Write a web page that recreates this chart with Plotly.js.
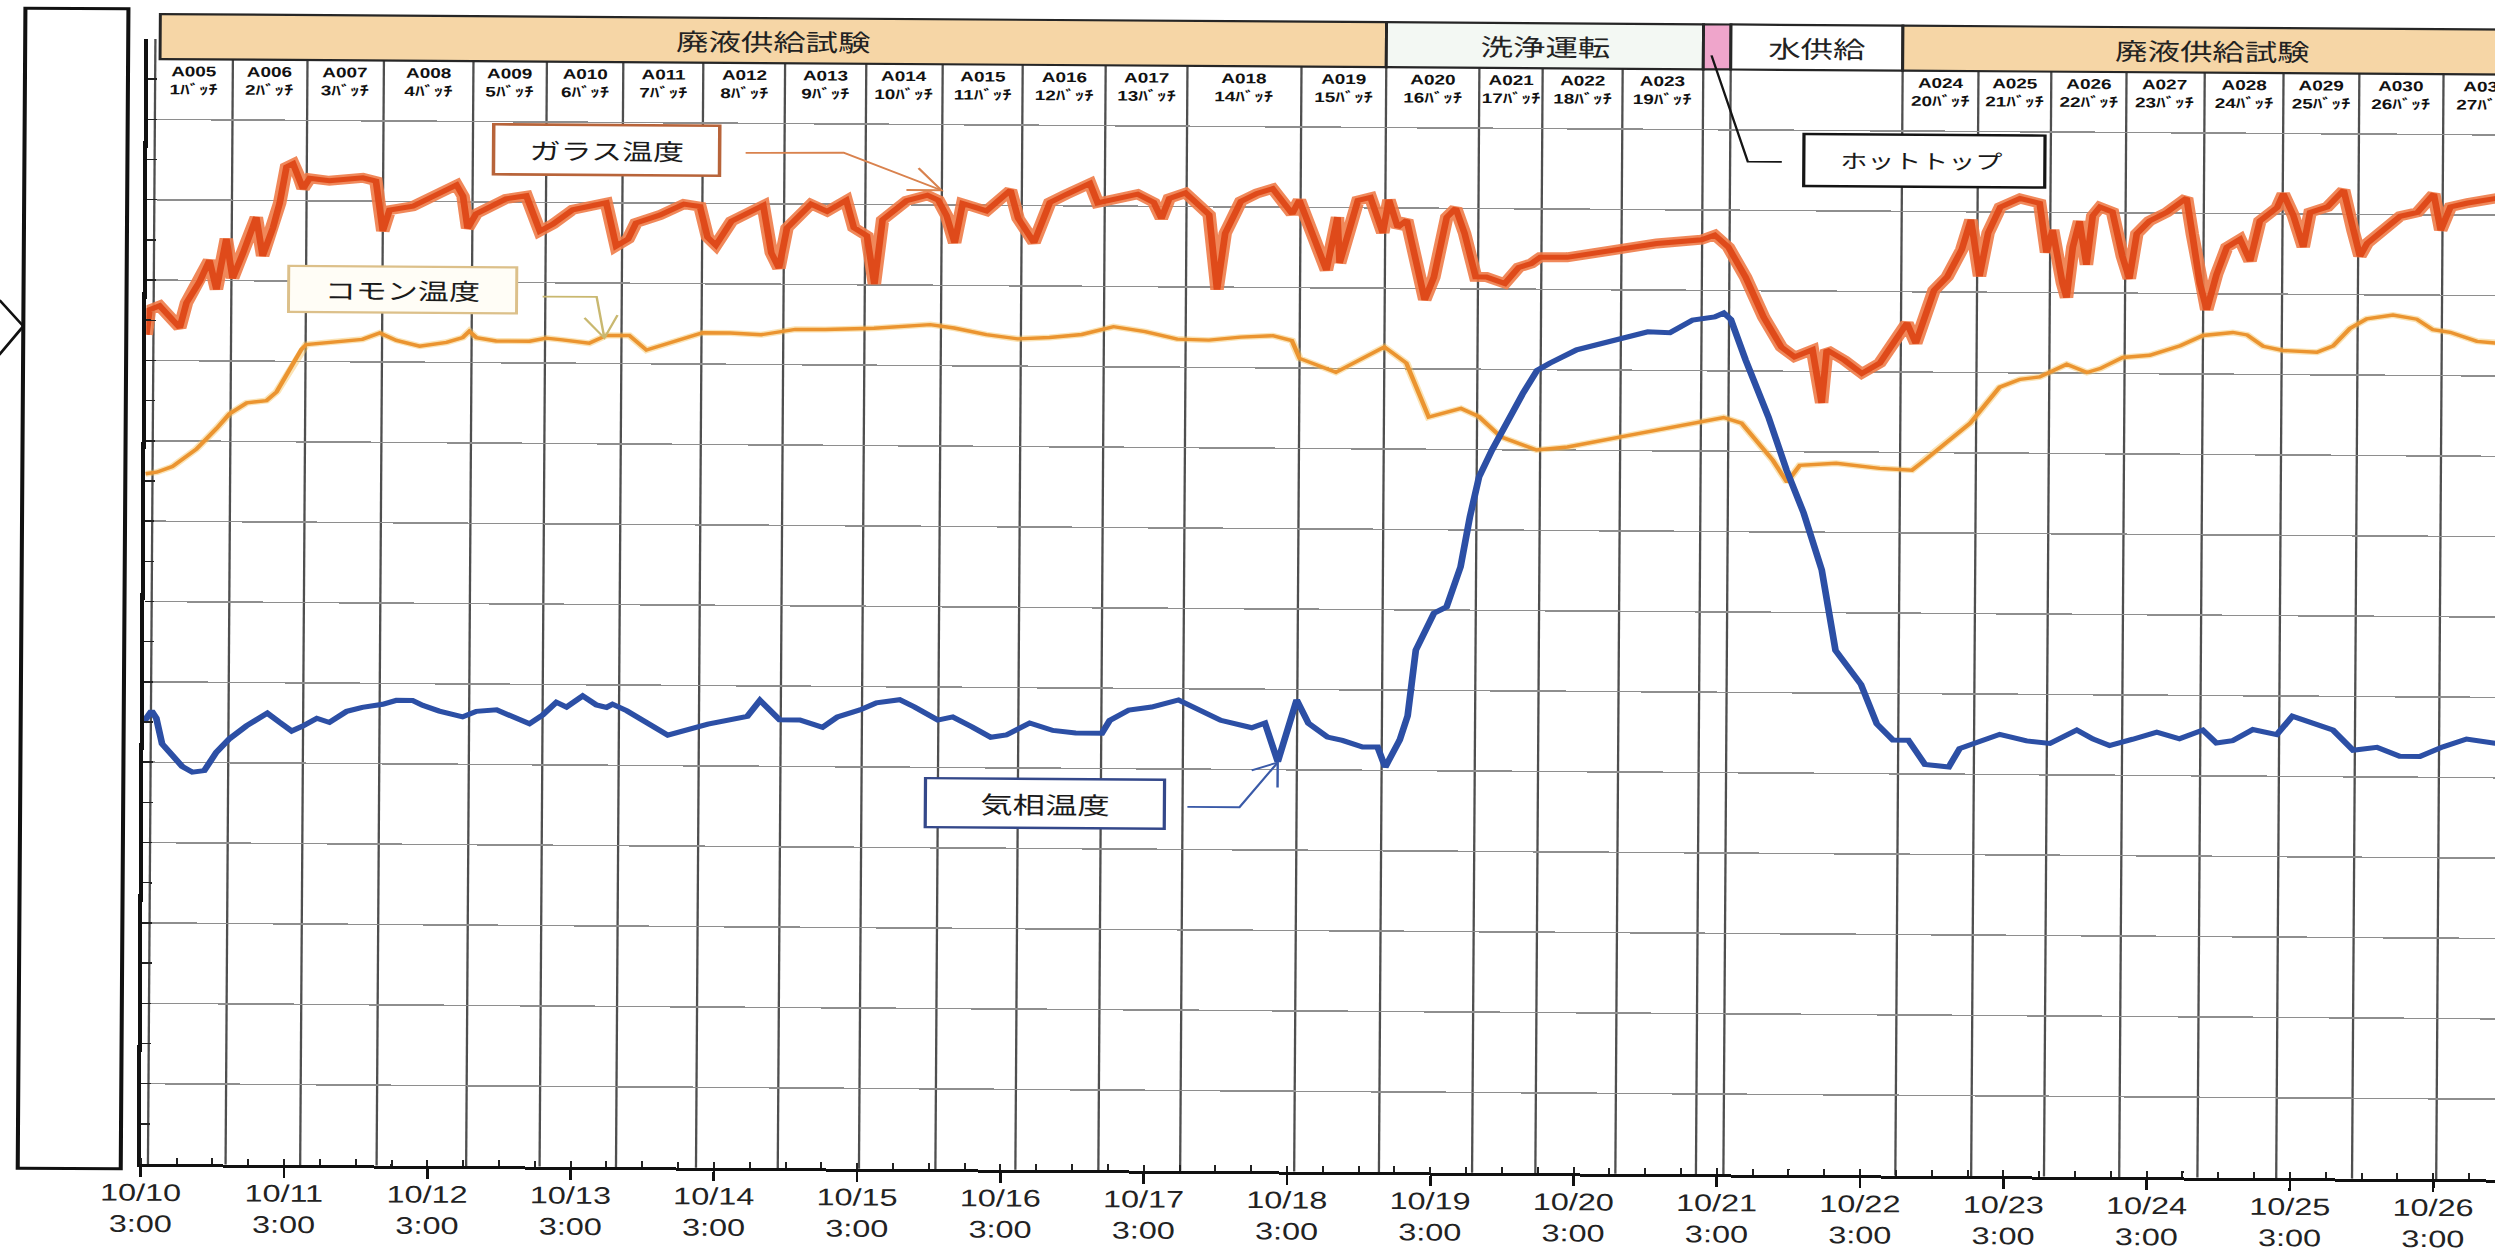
<!DOCTYPE html>
<html lang="ja">
<head>
<meta charset="utf-8">
<title>ガラス温度・コモン温度・気相温度の推移</title>
<script src="https://cdn.plot.ly/plotly-3.0.1.min.js"></script>
<style>
  html, body { margin: 0; padding: 0; background: #fff; overflow: hidden; width: 2495px; height: 1258px; }
  #chart { position: absolute; left: 0; top: 0; transform-origin: 0 0; }
</style>
</head>
<body>
<div id="chart"></div>
<script>
// ---------------- data (elapsed hours counted from 10/10 0:00, temperatures in deg C) ----------------
const seriesNames = ['ガラス温度', 'コモン温度', '気相温度'];

const glassH = [
  3.0, 3.5, 5.2, 8.6, 9.7, 11.9, 13.5, 14.7, 16.3, 17.4,
  19.1, 21.3, 22.4, 24.1, 25.2, 26.3, 27.4, 28.5, 29.1, 30.2,
  33.5, 39.1, 41.3, 42.5, 43.6, 47.5, 54.8, 55.9, 56.7, 58.1,
  61.5, 63.1, 66.5, 68.8, 71.0, 74.3, 79.9, 81.6, 83.6, 84.9,
  88.9, 92.9, 95.6, 96.9, 98.3, 100.9, 106.2, 107.6, 108.9, 110.2,
  114.2, 116.9, 120.1, 121.4, 123.6, 124.9, 126.2, 130.2, 133.7, 135.5,
  136.9, 138.3, 139.6, 143.6, 147.6, 148.9, 151.6, 154.2, 156.9, 160.9,
  162.2, 164.9, 168.9, 171.6, 172.9, 174.2, 176.9, 180.9, 182.3, 183.6,
  186.2, 188.9, 191.5, 194.8, 196.0, 200.6, 202.4, 202.8, 205.8, 207.9,
  210.0, 211.0, 212.5, 214.0, 215.5, 217.1, 218.6, 220.7, 222.2, 223.7,
  225.6, 227.4, 230.5, 232.8, 234.9, 236.4, 240.9, 248.3, 255.9, 263.4,
  265.6, 267.9, 270.8, 273.9, 276.9, 279.1, 282.1, 283.7, 284.5, 287.5,
  290.4, 293.4, 296.4, 297.9, 299.4, 300.9, 302.4, 304.6, 307.0, 308.5,
  310.0, 311.4, 313.4, 316.7, 320.0, 321.2, 322.2, 323.9, 324.6, 325.6,
  326.7, 327.9, 328.9, 330.1, 332.2, 333.9, 335.1, 336.3, 338.4, 341.3,
  343.5, 344.6, 345.6, 346.9, 348.1, 349.7, 351.4, 353.6, 355.3, 356.9,
  359.8, 360.8, 362.5, 364.2, 365.3, 368.2, 370.9, 372.5, 373.7, 374.9,
  377.6, 380.4, 383.3, 386.0, 387.2, 388.8, 391.7, 396.4, 400.0
];
const glassT = [
  1032, 1063, 1068, 1041, 1072, 1099, 1125, 1089, 1152, 1103,
  1134, 1179, 1131, 1166, 1197, 1242, 1246, 1228, 1215, 1228,
  1225, 1229, 1225, 1163, 1189, 1194, 1221, 1207, 1167, 1185,
  1199, 1204, 1208, 1164, 1173, 1191, 1200, 1146, 1155, 1175,
  1185, 1199, 1196, 1158, 1148, 1178, 1198, 1139, 1120, 1170,
  1200, 1191, 1205, 1171, 1161, 1101, 1181, 1205, 1212, 1206,
  1187, 1153, 1202, 1193, 1219, 1184, 1154, 1204, 1214, 1228,
  1204, 1209, 1215, 1205, 1185, 1210, 1217, 1190, 1097, 1167,
  1207, 1217, 1223, 1192, 1209, 1122, 1188, 1131, 1209, 1213,
  1169, 1210, 1176, 1185, 1135, 1086, 1114, 1189, 1200, 1169,
  1115, 1115, 1107, 1127, 1132, 1140, 1140, 1149, 1158, 1163,
  1169, 1154, 1117, 1067, 1030, 1018, 1027, 961, 1027, 1014,
  998, 1011, 1043, 1061, 1036, 1068, 1102, 1119, 1153, 1190,
  1120, 1174, 1206, 1217, 1211, 1150, 1178, 1112, 1094, 1157,
  1189, 1135, 1196, 1207, 1201, 1146, 1118, 1174, 1190, 1201,
  1212, 1219, 1174, 1113, 1080, 1124, 1158, 1168, 1141, 1191,
  1208, 1225, 1198, 1159, 1202, 1209, 1230, 1180, 1148, 1164,
  1181, 1198, 1203, 1226, 1181, 1210, 1215, 1221, 1220
];

const commonH = [
  3.0, 4.9, 7.5, 11.5, 14.9, 17.0, 19.9, 23.2, 24.9, 27.0,
  29.0, 29.8, 33.7, 39.2, 42.1, 44.9, 48.8, 53.3, 56.0, 57.1,
  58.3, 61.6, 67.2, 70.0, 72.7, 77.2, 80.1, 83.9, 86.8, 89.5,
  96.2, 100.8, 106.0, 111.7, 116.7, 124.9, 134.3, 138.3, 143.7, 149.0,
  154.3, 159.7, 165.0, 170.3, 175.7, 181.0, 186.3, 191.7, 194.9, 196.2,
  202.3, 210.4, 214.1, 217.9, 223.3, 226.3, 230.0, 236.0, 241.2, 250.1,
  263.6, 267.3, 270.3, 275.6, 278.0, 280.1, 286.2, 293.5, 298.9, 301.1,
  308.6, 313.5, 316.9, 320.2, 324.7, 328.1, 330.3, 334.1, 338.6, 343.7,
  347.5, 352.5, 354.9, 357.6, 360.9, 366.6, 369.3, 372.1, 374.9, 379.3,
  383.3, 386.0, 388.9, 393.4, 396.4, 400.0
];
const commonT = [
  859, 861, 868, 890, 916, 934, 948, 951, 962, 988,
  1015, 1021, 1024, 1028, 1036, 1027, 1020, 1025, 1031, 1039,
  1031, 1027, 1027, 1031, 1029, 1025, 1035, 1035, 1017, 1023,
  1039, 1039, 1037, 1044, 1044, 1046, 1051, 1047, 1039, 1034,
  1036, 1040, 1050, 1044, 1035, 1034, 1038, 1040, 1034, 1012,
  995, 1027, 1007, 940, 951, 941, 916, 900, 904, 917,
  936, 942, 935, 889, 862, 883, 886, 880, 878, 891,
  937, 982, 992, 995, 1011, 1001, 1006, 1020, 1023, 1035,
  1048, 1052, 1049, 1035, 1030, 1028, 1036, 1058, 1070, 1075,
  1070, 1057, 1054, 1043, 1041, 1040
];

const gasH = [
  3.0, 4.3, 5.1, 6.1, 7.8, 9.5, 11.2, 13.2, 15.2, 17.4,
  20.2, 23.7, 25.7, 27.8, 29.6, 32.0, 34.1, 37.0, 39.6, 43.0,
  45.3, 48.0, 49.7, 52.5, 56.4, 58.7, 62.1, 64.8, 67.6, 69.8,
  72.1, 73.8, 76.5, 78.8, 80.5, 81.5, 83.9, 90.8, 97.5, 104.1,
  106.2, 109.5, 112.9, 116.7, 119.2, 123.0, 125.7, 129.6, 132.1, 136.0,
  138.5, 141.7, 144.9, 147.5, 151.4, 155.3, 159.1, 163.5, 164.8, 168.0,
  171.8, 176.3, 179.5, 183.4, 188.6, 190.8, 193.0, 196.1, 198.1, 201.3,
  203.8, 207.2, 209.7, 211.0, 213.4, 214.7, 216.0, 219.0, 221.1, 223.4,
  224.9, 226.4, 228.5, 231.5, 233.7, 236.0, 238.1, 242.6, 248.5, 254.5,
  258.2, 259.7, 262.0, 265.7, 267.2, 268.4, 270.9, 274.8, 277.9, 280.8,
  283.9, 286.3, 290.6, 293.3, 296.0, 298.6, 301.4, 305.4, 307.2, 313.9,
  318.4, 322.3, 326.8, 329.5, 332.3, 336.2, 340.2, 344.0, 347.9, 350.2,
  352.9, 356.3, 360.3, 362.9, 366.3, 369.7, 373.1, 377.1, 380.9, 384.3,
  388.1, 392.1, 396.8, 400.0
];
const gasT = [
  550, 564, 555, 523, 509, 495, 488, 490, 513, 530,
  546, 562, 551, 540, 546, 556, 551, 565, 570, 574,
  579, 579, 573, 566, 559, 566, 568, 559, 551, 562,
  578, 572, 586, 575, 572, 576, 568, 538, 552, 562,
  582, 558, 558, 549, 562, 571, 580, 584, 575, 559,
  563, 551, 538, 541, 556, 547, 544, 544, 560, 573,
  577, 586, 574, 561, 552, 558, 510, 587, 558, 541,
  537, 529, 529, 504, 538, 568, 650, 696, 704, 754,
  816, 866, 899, 941, 971, 999, 1008, 1025, 1037, 1048,
  1047, 1054, 1063, 1067, 1072, 1064, 1014, 943, 877, 824,
  753, 653, 611, 562, 542, 542, 512, 509, 532, 550,
  542, 539, 556, 545, 537, 545, 554, 546, 557, 541,
  544, 558, 552, 575, 566, 558, 533, 537, 526, 526,
  538, 548, 543, 545
];

// batches (each batch runs from its start to its end hour)
const batchIds = ['A005', 'A006', 'A007', 'A008', 'A009', 'A010', 'A011', 'A012', 'A013', 'A014',
  'A015', 'A016', 'A017', 'A018', 'A019', 'A020', 'A021', 'A022', 'A023',
  'A024', 'A025', 'A026', 'A027', 'A028', 'A029', 'A030', 'A031'];
const batchNos = [1, 2, 3, 4, 5, 6, 7, 8, 9, 10, 11, 12, 13, 14, 15, 16, 17, 18, 19,
  20, 21, 22, 23, 24, 25, 26, 27];
const batchStartH = [4.2, 17.2, 29.7, 42.5, 57.5, 69.8, 82.6, 96.0, 109.7, 123.3,
  136.1, 149.5, 163.4, 177.1, 196.2, 210.4, 226.0, 236.6, 250.0,
  296.9, 309.6, 321.8, 334.4, 347.5, 360.7, 373.4, 387.5];
const batchEndH = [17.2, 29.7, 42.5, 57.5, 69.8, 82.6, 96.0, 109.7, 123.3, 136.1,
  149.5, 163.4, 177.1, 196.2, 210.4, 226.0, 236.6, 250.0, 263.5,
  309.6, 321.8, 334.4, 347.5, 360.7, 373.4, 387.5, 401.6];

// operating phases shown in the band above the plot
const phaseNames = ['廃液供給試験', '洗浄運転', '', '水供給', '廃液供給試験'];
const phaseStartH = [5.0, 210.4, 263.5, 268.1, 296.9];
const phaseEndH = [210.4, 263.5, 268.1, 296.9, 401.6];
const phaseLabelH = [107.7, 237.0, null, 282.5, 348.8];
const hotTopNote = 'ホットトップ';

// ---------------- geometry ----------------
const SX = 1.35;            // horizontal widening of the whole figure
const TILT = 0.38;          // slight clockwise tilt, degrees
const ML = 149 / SX;        // left margin (px before widening)
const W = Math.round(2515 / SX);
const PW = W - ML;
const TOP = 38, BOTTOM = 1163, HEIGHT = 1258;
const DAY_PX = 143.25;      // widened px per day
const T0 = 3;
const T1 = T0 + PW * SX / DAY_PX * 24;

const chart = document.getElementById('chart');
chart.style.width = W + 'px';
chart.style.height = HEIGHT + 'px';
chart.style.transform = 'rotate(' + TILT + 'deg) scaleX(' + SX + ')';

const BASE = Date.UTC(2013, 9, 10);
const toDate = h => new Date(BASE + Math.round(h * 3600000)).toISOString().slice(0, 19).replace('T', ' ');
// paper coordinates
const hx = h => (h - T0) / (T1 - T0);
const ux = xu => (xu / SX - ML) / PW;
const uy = yu => (BOTTOM - yu) / (BOTTOM - TOP);

// ---------------- traces ----------------
const glassX = glassH.map(toDate);
const traces = [
  { x: commonH.map(toDate), y: commonT, name: seriesNames[1], type: 'scatter', mode: 'lines',
    line: { color: '#F4C05A', width: 6 }, hoverinfo: 'skip', opacity: 0.45 },
  { x: commonH.map(toDate), y: commonT, name: seriesNames[1], type: 'scatter', mode: 'lines',
    line: { color: '#EB9430', width: 3.4 }, hoverinfo: 'skip' },
  { x: gasH.map(toDate), y: gasT, name: seriesNames[2], type: 'scatter', mode: 'lines',
    line: { color: '#2C4FA5', width: 5 }, hoverinfo: 'skip' },
  { x: glassX, y: glassT, name: seriesNames[0], type: 'scatter', mode: 'lines',
    line: { color: '#EE7B48', width: 10 }, hoverinfo: 'skip', opacity: 0.9 },
  { x: glassX, y: glassT, name: seriesNames[0], type: 'scatter', mode: 'lines',
    line: { color: '#DF4A1A', width: 5 }, hoverinfo: 'skip' }
];

// ---------------- shapes ----------------
const shapes = [];

// batch divider lines
const dividers = Array.from(new Set(batchStartH.concat(batchEndH, phaseStartH.slice(1))))
  .filter(h => h > T0 && h < T1).sort((a, b) => a - b);
dividers.forEach(h => shapes.push({
  type: 'line', xref: 'x', yref: 'paper', x0: toDate(h), x1: toDate(h), y0: 0, y1: 1,
  line: { color: '#4f4f4f', width: 1.7 }, layer: 'between'
}));

// phase band
const phaseFill = ['#F6D6A6', '#F3F8F3', '#EFA5CB', '#FFFFFF', '#F6D6A6'];
phaseNames.forEach((n, i) => shapes.push({
  type: 'rect', xref: 'paper', yref: 'paper',
  x0: hx(phaseStartH[i]), x1: hx(phaseEndH[i]), y0: uy(58), y1: uy(13),
  fillcolor: phaseFill[i], line: { color: '#262626', width: 2.2 }, layer: 'above'
}));

// blank panel at the far left with its marker
shapes.push({
  type: 'rect', xref: 'paper', yref: 'paper', x0: ux(26), x1: ux(129), y0: uy(1168), y1: uy(8),
  fillcolor: '#ffffff', line: { color: '#111', width: 3 }, layer: 'above'
});
const path = pts => 'M ' + pts.map(p => ux(p[0]) + ',' + uy(p[1])).join(' L ');
shapes.push({ type: 'path', xref: 'paper', yref: 'paper', path: path([[2, 300], [26, 326], [2, 355]]),
  line: { color: '#111', width: 2.2 }, layer: 'above' });

// callout boxes
const boxes = [
  { x0: 495, x1: 721, y0: 121, y1: 171, line: '#B8643A', fill: '#ffffff', w: 2.6 },
  { x0: 291, x1: 519, y0: 264, y1: 310, line: '#DCC08A', fill: '#FFFDF6', w: 2.2 },
  { x0: 931, x1: 1170, y0: 772, y1: 821, line: '#34488A', fill: '#ffffff', w: 2.4 },
  { x0: 1805, x1: 2046, y0: 122, y1: 174, line: '#151515', fill: '#ffffff', w: 2.4 }
];
boxes.forEach(b => shapes.push({
  type: 'rect', xref: 'paper', yref: 'paper', x0: ux(b.x0), x1: ux(b.x1), y0: uy(b.y1), y1: uy(b.y0),
  fillcolor: b.fill, line: { color: b.line, width: b.w }, layer: 'above'
}));

// leader lines
const leaders = [
  { pts: [[747, 148], [845, 147], [943, 184]], color: '#D9824E' },
  { pts: [[920, 162], [943, 184], [908, 184]], color: '#D9824E' },
  { pts: [[545, 293], [599, 293], [607, 334]], color: '#C9B870' },
  { pts: [[587, 314], [607, 334], [620, 311]], color: '#C9B870' },
  { pts: [[1193, 799], [1245, 799], [1283, 754]], color: '#3A5AA8' },
  { pts: [[1257, 762], [1283, 754], [1283, 779]], color: '#3A5AA8' },
  { pts: [[1712, 44], [1749, 150], [1783, 150]], color: '#151515' }
];
leaders.forEach(l => shapes.push({
  type: 'path', xref: 'paper', yref: 'paper', path: path(l.pts),
  line: { color: l.color, width: 1.8 }, layer: 'above'
}));

// ---------------- annotations ----------------
const annotations = [];
const JP = 'Noto Sans CJK JP, sans-serif';

phaseNames.forEach((n, i) => {
  if (!n) return;
  annotations.push({
    xref: 'paper', yref: 'paper', x: hx(phaseLabelH[i]), y: uy(35.5), text: n, showarrow: false,
    xanchor: 'center', yanchor: 'middle', font: { family: JP, size: 24, color: '#222' }
  });
});

batchIds.forEach((id, i) => {
  const mid = (batchStartH[i] + batchEndH[i]) / 2;
  annotations.push({
    xref: 'paper', yref: 'paper', x: hx(mid), y: uy(79),
    text: '<b>' + id + '</b><br><b>' + batchNos[i] + 'ﾊﾞｯﾁ</b>', showarrow: false,
    xanchor: 'center', yanchor: 'middle',
    font: { family: 'Liberation Sans, Noto Sans CJK JP, sans-serif', size: 14, color: '#111' }
  });
});

const calloutText = [
  { text: seriesNames[0], x: 608, y: 146, size: 23 },
  { text: seriesNames[1], x: 405, y: 287, size: 23 },
  { text: seriesNames[2], x: 1050, y: 796, size: 24 },
  { text: hotTopNote, x: 1922, y: 148, size: 20 }
];
calloutText.forEach(c => annotations.push({
  xref: 'paper', yref: 'paper', x: ux(c.x), y: uy(c.y), text: c.text, showarrow: false,
  xanchor: 'center', yanchor: 'middle', font: { family: JP, size: c.size, color: '#1a1a1a' }
}));

// ---------------- layout ----------------
const layout = {
  width: W, height: HEIGHT,
  margin: { l: ML, r: 0, t: TOP, b: HEIGHT - BOTTOM, pad: 0 },
  paper_bgcolor: '#ffffff', plot_bgcolor: '#ffffff',
  showlegend: false,
  xaxis: {
    type: 'date', range: [toDate(T0), toDate(T1)], tick0: toDate(3), dtick: 86400000,
    tickformat: '%m/%d<br>%-H:%M', ticks: 'outside', ticklen: 10, tickwidth: 2, tickcolor: '#111',
    showline: true, linecolor: '#111', linewidth: 3, showgrid: false, zeroline: false,
    ticklabelstandoff: -5,
    tickfont: { family: 'Liberation Sans, Arial, sans-serif', size: 24, color: '#222' },
    minor: { dtick: 21600000, tick0: toDate(3), ticks: 'inside', ticklen: 6, tickwidth: 1.5,
      tickcolor: '#222', showgrid: false }
  },
  yaxis: {
    range: [0, 1400], tick0: 0, dtick: 100, showticklabels: false,
    ticks: 'inside', ticklen: 7, tickwidth: 1.5, tickcolor: '#222',
    showline: true, linecolor: '#111', linewidth: 3, zeroline: false,
    showgrid: true, gridcolor: '#8e8e8e', gridwidth: 1.5,
    minor: { dtick: 50, ticks: 'inside', ticklen: 7, tickwidth: 1.5, tickcolor: '#222', showgrid: false }
  },
  shapes: shapes,
  annotations: annotations
};

Plotly.newPlot(chart, traces, layout, { displayModeBar: false, staticPlot: true });
</script>
</body>
</html>
